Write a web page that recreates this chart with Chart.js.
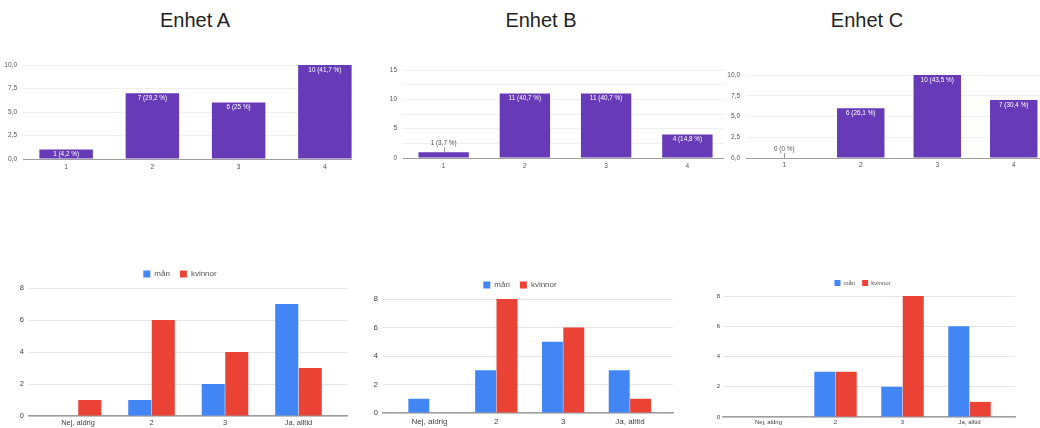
<!DOCTYPE html>
<html>
<head>
<meta charset="utf-8">
<script src="https://cdn.jsdelivr.net/npm/chart.js@4.4.1/dist/chart.umd.min.js"></script>
<style>
  body { margin: 0; background: #fff; }
  #page { position: relative; width: 1040px; height: 428px; overflow: hidden; background: #fff; }
  .title { position: absolute; top: 9px; width: 200px; text-align: center; font: 20px "Liberation Sans", Arial, sans-serif; color: #222; }
  .box { position: absolute; overflow: hidden; }
  .box canvas { position: absolute; left: 0; top: 0; }
</style>
</head>
<body>
<div id="page">
  <div class="title" style="left:95px">Enhet A</div>
  <div class="title" style="left:441px">Enhet B</div>
  <div class="title" style="left:767px">Enhet C</div>

  <div class="box" style="left:0;top:40px;width:352px;height:140px"><canvas id="chartA" width="372" height="140"></canvas></div>
  <div class="box" style="left:352px;top:40px;width:372px;height:140px"><canvas id="chartB" width="380" height="140"></canvas></div>
  <div class="box" style="left:724px;top:40px;width:316px;height:140px"><canvas id="chartC" width="332" height="140"></canvas></div>

  <div class="box" style="left:0;top:250px;width:352px;height:178px"><canvas id="chartD" width="352" height="178"></canvas></div>
  <div class="box" style="left:352px;top:250px;width:358px;height:178px"><canvas id="chartE" width="358" height="178"></canvas></div>
  <div class="box" style="left:710px;top:250px;width:330px;height:178px"><canvas id="chartF" width="330" height="178"></canvas></div>
</div>

<script>
// top row: answers 1-4 per unit
let answers = ['1', '2', '3', '4'];
let countA = [1, 7, 6, 10];
let countB = [1, 11, 11, 4];
let countC = [0, 6, 10, 7];

// bottom row: men / women
let answersGender = ['Nej, aldrig', '2', '3', 'Ja, alltid'];
let menD = [0, 1, 2, 7];
let womenD = [1, 6, 4, 3];
let menE = [1, 3, 5, 3];
let womenE = [0, 8, 6, 1];
let menF = [0, 3, 2, 6];
let womenF = [0, 3, 8, 1];

const font = '"Liberation Sans", Arial, sans-serif';
const purple = '#673ab7';
const blue = '#4285f4';
const red = '#ea4335';

// "7 (29,2 %)"
function pctLabels(counts) {
	let total = counts.reduce((a, b) => a + b, 0);
	return counts.map(function (v) {
		let p = Math.round(v / total * 1000) / 10;
		return v + ' (' + String(p).replace('.', ',') + ' %)';
	});
}

// value labels on the purple bars, outside with a small line when the bar is too short
const barLabels = {
	id: 'barLabels',
	afterDatasetsDraw(chart, args, opts) {
		const ctx = chart.ctx;
		const meta = chart.getDatasetMeta(0);
		ctx.save();
		ctx.font = '6.4px ' + font;
		ctx.textAlign = 'center';
		ctx.textBaseline = 'middle';
		meta.data.forEach(function (bar, i) {
			let h = bar.base - bar.y;
			if (h >= 8) {
				ctx.fillStyle = '#fff';
				ctx.fillText(opts.texts[i], bar.x, bar.y + 5);
			} else {
				ctx.strokeStyle = '#999';
				ctx.lineWidth = 1;
				ctx.beginPath();
				ctx.moveTo(Math.round(bar.x) + 0.5, bar.y);
				ctx.lineTo(Math.round(bar.x) + 0.5, bar.y - 5);
				ctx.stroke();
				ctx.fillStyle = '#555';
				ctx.fillText(opts.texts[i], bar.x, bar.y - 9);
			}
		});
		ctx.restore();
	}
};

function topChart(id, counts, s) {
	new Chart(document.getElementById(id), {
		type: 'bar',
		data: {
			labels: answers,
			datasets: [{ data: counts, backgroundColor: purple, categoryPercentage: 0.62, barPercentage: 1 }]
		},
		plugins: [barLabels],
		options: {
			responsive: false,
			animation: false,
			layout: { padding: { left: 0, top: s.top, right: 4, bottom: 0 } },
			plugins: {
				legend: { display: false },
				tooltip: { enabled: false },
				barLabels: { texts: pctLabels(counts) }
			},
			scales: {
				x: {
					grid: { display: false, drawTicks: false },
					border: { color: '#9e9e9e', width: 1 },
					ticks: { color: '#555', font: { size: 6.5, family: font }, padding: s.xPad, maxRotation: 0 },
					afterFit: (sc) => { sc.height = s.xH; }
				},
				y: {
					min: 0,
					max: s.max,
					grid: { color: '#efefef', drawTicks: false },
					border: { display: false },
					ticks: {
						stepSize: 2.5,
						color: '#555',
						font: { size: 6.5, family: font },
						padding: 6,
						callback: s.fmt
					},
					afterFit: (sc) => { sc.width = s.yW; }
				}
			}
		}
	});
}

let commaFmt = (v) => v.toFixed(1).replace('.', ',');

topChart('chartA', countA, { top: 25, yW: 23, xH: 21, xPad: 4, max: 10, fmt: commaFmt });
topChart('chartB', countB, { top: 30, yW: 51, xH: 22, xPad: 4, max: 15, fmt: (v) => (v % 5 === 0 ? String(v) : '') });
topChart('chartC', countC, { top: 35, yW: 22, xH: 22, xPad: 3, max: 10, fmt: commaFmt });

function bottomChart(id, men, women, s) {
	let pts = function (arr) {
		return arr.map(function (v, i) { return { x: i, y: v }; });
	};
	new Chart(document.getElementById(id), {
		type: 'bar',
		data: {
			datasets: [
				{ label: 'mån', data: pts(men), backgroundColor: blue, categoryPercentage: 0.64, barPercentage: 0.98 },
				{ label: 'kvinnor', data: pts(women), backgroundColor: red, categoryPercentage: 0.64, barPercentage: 0.98 }
			]
		},
		options: {
			responsive: false,
			animation: false,
			layout: { padding: s.pad },
			plugins: {
				tooltip: { enabled: false },
				legend: {
					position: 'top',
					labels: {
						color: '#555',
						font: { size: s.legFont, family: font },
						boxWidth: s.legBox,
						boxHeight: s.legBox,
						padding: s.legPad
					}
				}
			},
			scales: {
				x: {
					type: 'linear',
					offset: false,
					min: s.min,
					max: s.max,
					grid: { display: false, drawTicks: false },
					border: { color: '#9e9e9e', width: 1.5 },
					afterBuildTicks: (sc) => { sc.ticks = answersGender.map((_, i) => ({ value: i })); },
					ticks: {
						autoSkip: false,
						maxRotation: 0,
						color: '#444',
						font: { size: s.tickFont, family: font },
						padding: s.xPad,
						callback: (v) => answersGender[v]
					},
					afterFit: (sc) => { sc.height = s.xH; }
				},
				y: {
					min: 0,
					max: 8,
					grid: { color: '#e6e6e6', drawTicks: false },
					border: { display: false },
					ticks: { stepSize: 2, color: '#444', font: { size: s.tickFont, family: font }, padding: s.yPad },
					afterFit: (sc) => { sc.width = s.yW; }
				}
			}
		}
	});
}

bottomChart('chartD', menD, womenD, {
	pad: { left: 13, top: 10, right: 5, bottom: 0 }, yW: 16, yPad: 5, xH: 12, xPad: 2,
	min: -0.667, max: 3.66, tickFont: 7.5, legFont: 8, legBox: 7, legPad: 10
});
bottomChart('chartE', menE, womenE, {
	pad: { left: 15, top: 21, right: 37, bottom: 0 }, yW: 16, yPad: 5, xH: 15, xPad: 4,
	min: -0.696, max: 3.645, tickFont: 8, legFont: 8, legBox: 7, legPad: 10
});
bottomChart('chartF', menF, womenF, {
	pad: { left: 0, top: 23, right: 25, bottom: 0 }, yW: 13, yPad: 3, xH: 11, xPad: 2,
	min: -0.679, max: 3.679, tickFont: 6, legFont: 6, legBox: 6, legPad: 7
});
</script>
</body>
</html>
